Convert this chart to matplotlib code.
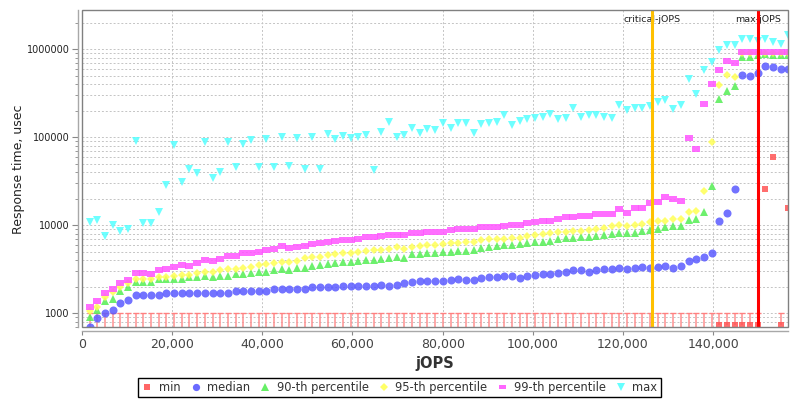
import matplotlib
matplotlib.use("Agg")
import matplotlib.pyplot as plt
import matplotlib.transforms as mtransforms
from matplotlib.lines import Line2D
from matplotlib.patches import Rectangle
from matplotlib.ticker import FixedLocator, FuncFormatter, LogLocator, NullFormatter

# ---------------- data ----------------
jops = [1703, 3406, 5109, 6812, 8515, 10218, 11921, 13624, 15327, 17030,
        18733, 20436, 22139, 23842, 25545, 27248, 28951, 30654, 32357, 34060,
        35763, 37466, 39169, 40872, 42575, 44278, 45981, 47684, 49387, 51090,
        52793, 54496, 56199, 57902, 59605, 61308, 63011, 64714, 66417, 68120,
        69823, 71526, 73229, 74932, 76635, 78338, 80041, 81744, 83447, 85150,
        86853, 88556, 90259, 91962, 93665, 95368, 97071, 98774, 100477, 102180,
        103883, 105586, 107289, 108992, 110695, 112398, 114101, 115804, 117507, 119210,
        120913, 122616, 124319, 126022, 127725, 129428, 131131, 132834, 134537, 136240,
        137943, 139646, 141349, 143052, 144755, 146458, 148161, 149864, 151567, 153270,
        154973, 156676]

# min values of the first 82 points lie below the visible axis range
min_rt = [500] * 82 + [730, 730, 730, 730, 730, 730, 25900, 60300, 730, 15600]

median_rt = [705, 880, 1000, 1100, 1300, 1400, 1600, 1600, 1600, 1600,
             1700, 1700, 1700, 1700, 1700, 1700, 1700, 1700, 1700, 1800,
             1800, 1800, 1800, 1800, 1890, 1890, 1890, 1890, 1890, 1970,
             1970, 1970, 1970, 2060, 2060, 2060, 2060, 2060, 2110, 2060,
             2110, 2190, 2250, 2310, 2310, 2310, 2310, 2370, 2430, 2370,
             2370, 2500, 2590, 2590, 2630, 2630, 2540, 2670, 2700, 2800,
             2800, 2900, 2970, 3080, 3080, 2970, 3080, 3160, 3160, 3270,
             3160, 3270, 3390, 3270, 3390, 3480, 3300, 3450, 3960, 4150,
             4350, 4870, 11300, 13800, 25900, 511000, 502000, 533000, 647000, 624000,
             590000, 590000]

p90_rt = [900, 1090, 1380, 1450, 1810, 1970, 2290, 2290, 2290, 2470,
          2470, 2470, 2470, 2600, 2600, 2670, 2590, 2670, 2660, 2800,
          2800, 2870, 2950, 2930, 3080, 3160, 3080, 3250, 3250, 3450,
          3510, 3630, 3700, 3800, 3860, 3930, 4030, 4030, 4140, 4250,
          4360, 4250, 4720, 4720, 4810, 4890, 4930, 5010, 5140, 5140,
          5230, 5520, 5620, 5820, 5930, 5930, 6140, 6240, 6410, 6460,
          6680, 6930, 7110, 7110, 7310, 7430, 7550, 7690, 7960, 8250,
          8110, 8110, 8690, 8840, 9150, 9490, 9890, 9890, 11480, 11690,
          14160, 27800, 271000, 335000, 385000, 825000, 815000, 858000, 877000, 862000,
          862000, 862000]

p95_rt = [1050, 1190, 1550, 1730, 1970, 2190, 2470, 2470, 2470, 2600,
          2600, 2660, 2720, 2750, 2850, 2970, 2950, 3100, 3210, 3210,
          3300, 3390, 3560, 3600, 3730, 3800, 3800, 3950, 4200, 4310,
          4350, 4590, 4720, 4810, 4890, 5010, 5140, 5230, 5230, 5380,
          5620, 5380, 5720, 5820, 5930, 6030, 6140, 6240, 6240, 6460,
          6460, 6810, 6930, 7050, 7050, 7230, 7230, 7550, 7820, 7960,
          8110, 8390, 8460, 8610, 8690, 8840, 9080, 9240, 9820, 10000,
          9820, 10000, 10350, 10900, 11200, 11320, 11700, 11850, 14000, 14500,
          24800, 87300, 390000, 510000, 483000, 905000, 905000, 910000, 915000, 905000,
          905000, 905000]

p99_rt = [1190, 1390, 1690, 1890, 2180, 2380, 2900, 2900, 2770, 3080,
          3170, 3380, 3570, 3450, 3680, 4050, 3950, 4160, 4480, 4480,
          4780, 4850, 4980, 5290, 5400, 5840, 5450, 5700, 5870, 6140,
          6240, 6460, 6580, 6760, 6810, 7050, 7310, 7310, 7550, 7820,
          7820, 7690, 8110, 8250, 8320, 8320, 8460, 8840, 9150, 9010,
          9080, 9490, 9490, 9640, 9890, 10000, 10160, 10700, 10900, 11100,
          11100, 11750, 12540, 12330, 12870, 12650, 13500, 13300, 13500, 15200,
          13900, 15800, 15600, 18100, 18600, 20800, 20000, 19000, 98200, 74300,
          239000, 403000, 582000, 743000, 705000, 935000, 935000, 935000, 935000, 935000,
          935000, 935000]

max_rt = [11000, 11600, 7500, 10100, 8650, 9170, 90000, 10700, 10700, 14000,
          28300, 82000, 31400, 43400, 39500, 87400, 34000, 40200, 87700, 46300,
          84000, 93000, 46300, 95200, 46300, 100000, 47300, 97600, 44000, 101700,
          43100, 109000, 96000, 104000, 97600, 101000, 107000, 42000, 114000, 150000,
          99500, 106500, 129000, 111000, 123500, 120000, 146500, 127000, 146500, 146500,
          111000, 142500, 146500, 150500, 178500, 138500, 152000, 160500, 166500, 168000,
          183000, 162000, 163500, 216500, 169000, 177000, 179500, 168000, 163500, 233000,
          204500, 216000, 215000, 225000, 253000, 262500, 211000, 230000, 459500, 309000,
          587500, 720500, 973500, 1115000, 1115000, 1300000, 1300000, 1232000, 1310000, 1220000,
          1150000, 1435000]

critical_jops = 126500
max_jops = 149900
x_ticks = [0, 20000, 40000, 60000, 80000, 100000, 120000, 140000]
y_major = [1000, 10000, 100000, 1000000]

# ---------------- figure ----------------
fig = plt.figure(figsize=(8, 4), dpi=100)
ax = fig.add_axes([0.1025, 0.1818, 0.8829, 0.7925])

ax.set_yscale("log")
ax.set_xlim(0, max(jops))
ax.set_ylim(693, 2.77e6)

grid_kw = dict(color="#c4c4c4", linewidth=0.7, linestyle=(0, (2, 2)))
ax.grid(True, which="major", axis="both", **grid_kw)
ax.grid(True, which="minor", axis="y", **grid_kw)
ax.set_axisbelow(True)

# min bars (values below 1000)
bx = [x for x, m in zip(jops, min_rt) if m < 1000]
by = [m for m in min_rt if m < 1000]
ax.vlines(bx, by, [1000] * len(bx), colors="#ff8c8c", linewidth=1.4, alpha=0.75, zorder=2)
ax.plot(bx, [1000] * len(bx), linestyle="none", marker="_", color="#ff8080",
        markersize=5, markeredgewidth=1.0, zorder=2)

rect_marker = [(-1.0, -0.7), (1.0, -0.7), (1.0, 0.7), (-1.0, 0.7), (-1.0, -0.7)]

series = [
    ("min", min_rt, "s", "#ff5555", 4.8),
    ("median", median_rt, "o", "#5a5aff", 5.8),
    ("90-th percentile", p90_rt, "^", "#55ee55", 6.3),
    ("95-th percentile", p95_rt, "D", "#ffff55", 4.5),
    ("99-th percentile", p99_rt, rect_marker, "#ff55ff", 5.6),
    ("max", max_rt, "v", "#55ffff", 6.3),
]

handles = []
for i, (name, vals, mk, col, ms) in enumerate(series):
    ax.plot(jops, vals, linestyle="none", marker=mk, color=col, markersize=ms,
            markeredgewidth=0, alpha=0.85, zorder=3 + i)
    handles.append(Line2D([], [], linestyle="none", marker=mk, color=col,
                          markersize=ms * 0.9, markeredgewidth=0, alpha=0.9, label=name))

# critical / max jOPS lines
ax.axvline(critical_jops, color="#ffc000", linewidth=2.2, zorder=12)
ax.axvline(max_jops, color="#ff0000", linewidth=2.2, zorder=12)
trans = mtransforms.blended_transform_factory(ax.transData, ax.transAxes)
ax.text(critical_jops, 0.972, "critical-jOPS", transform=trans, ha="center", va="center",
        fontsize=6.8, color="#222222", zorder=11)
ax.text(max_jops, 0.972, "max-jOPS", transform=trans, ha="center", va="center",
        fontsize=6.8, color="#222222", zorder=11)

# ticks
ax.xaxis.set_major_locator(FixedLocator(x_ticks))
ax.xaxis.set_major_formatter(FuncFormatter(lambda v, p: f"{int(v):,}"))
ax.yaxis.set_major_locator(FixedLocator(y_major))
ax.yaxis.set_major_formatter(FuncFormatter(lambda v, p: f"{int(round(v))}"))
ax.yaxis.set_minor_locator(LogLocator(base=10, subs=range(2, 10)))
ax.yaxis.set_minor_formatter(NullFormatter())

ax.tick_params(axis="x", which="major", labelsize=9, length=3, color="#888888",
               labelcolor="#444444", pad=2)
ax.tick_params(axis="x", which="minor", length=0)
ax.tick_params(axis="y", which="major", labelsize=7, length=4, color="#888888",
               labelcolor="#222222", pad=2)
ax.tick_params(axis="y", which="minor", length=2, color="#888888")

for s in ["top", "right"]:
    ax.spines[s].set_visible(False)
for s in ["left", "bottom"]:
    ax.spines[s].set_position(("outward", 3))
    ax.spines[s].set_color("#a8a8a8")
    ax.spines[s].set_linewidth(1.0)

ax.add_patch(Rectangle((0, 0), 1, 1, transform=ax.transAxes, fill=False,
                       edgecolor="#808080", linewidth=1.0, zorder=20, clip_on=False))

ax.set_xlabel("jOPS", fontsize=10.5, fontweight="bold", color="#333333", labelpad=3)
ax.set_ylabel("Response time, usec", fontsize=9, color="#222222", labelpad=1)

leg = fig.legend(handles=handles, loc="center", bbox_to_anchor=(0.4994, 0.0313), ncol=6,
                 fontsize=8.3, frameon=True, fancybox=False, edgecolor="black",
                 framealpha=1, handlelength=1.0, handletextpad=0.5, columnspacing=0.8,
                 borderpad=0.3, borderaxespad=0)
leg.get_frame().set_linewidth(1.0)
for t in leg.get_texts():
    t.set_color("#333333")

fig.savefig("out.png", dpi=100)
